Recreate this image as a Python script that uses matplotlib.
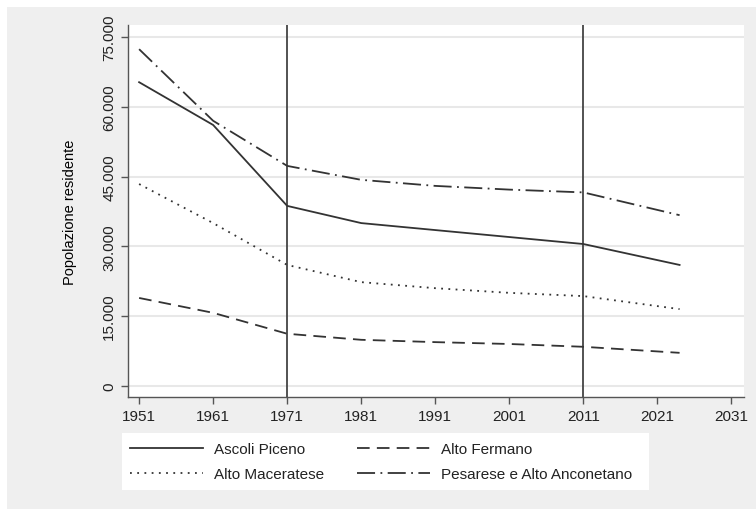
import matplotlib
matplotlib.use("Agg")
import matplotlib.pyplot as plt
from matplotlib.ticker import FuncFormatter

plt.rcParams["font.family"] = ["Liberation Sans", "DejaVu Sans"]

# census years plus latest estimate
anni = [1951, 1961, 1971, 1981, 1991, 2001, 2011, 2024]

ascoli_piceno = [65300, 56100, 38700, 35000, 33500, 32000, 30500, 26000]
alto_fermano = [18900, 15700, 11200, 9900, 9400, 9000, 8400, 7100]
alto_maceratese = [43400, 35000, 26000, 22300, 21000, 20000, 19300, 16500]
pesarese = [72400, 57000, 47300, 44300, 43000, 42200, 41600, 36700]

linee_verticali = [1971, 2011]
yticks = [0, 15000, 30000, 45000, 60000, 75000]
xticks = list(range(1951, 2032, 10))

grigio = "#333333"
sfondo = "#efefef"

fig = plt.figure(figsize=(7.56, 5.10), dpi=100, facecolor="white")
# grey background panel (Stata-like)
fig.patches.append(plt.Rectangle((7 / 756, 0), 1, 1 - 8 / 510,
                                 transform=fig.transFigure, facecolor=sfondo,
                                 edgecolor="none", zorder=-10))
# white legend box
fig.patches.append(plt.Rectangle((122 / 756, 1 - 491 / 510), (649 - 122) / 756,
                                 (491 - 434) / 510, transform=fig.transFigure,
                                 facecolor="white", edgecolor="none", zorder=-5))

ax = fig.add_axes([128 / 756, 1 - 398 / 510, (744 - 128) / 756, (398 - 26) / 510])
ax.set_facecolor("white")

l1, = ax.plot(anni, ascoli_piceno, color=grigio, lw=1.3, ls="-", label="Ascoli Piceno")
l2, = ax.plot(anni, alto_fermano, color=grigio, lw=1.3, ls=(0, (7, 4)), label="Alto Fermano")
l3, = ax.plot(anni, alto_maceratese, color=grigio, lw=1.3, ls=(0, (1, 3)), label="Alto Maceratese")
l4, = ax.plot(anni, pesarese, color=grigio, lw=1.3, ls=(0, (10, 3, 1, 3)),
              label="Pesarese e Alto Anconetano")

for x in linee_verticali:
    ax.axvline(x, color="#444444", lw=1.3, zorder=1)

ax.set_xlim(1949.5, 2032.7)
ax.set_ylim(-2400, 77600)
ax.set_xticks(xticks)
ax.set_yticks(yticks)
ax.yaxis.set_major_formatter(FuncFormatter(lambda v, p: f"{int(v):,}".replace(",", ".")))
ax.grid(axis="y", color="#e8e8e8", lw=1.5, zorder=0)
ax.set_axisbelow(True)

for s in ["top", "right"]:
    ax.spines[s].set_visible(False)
for s in ["left", "bottom"]:
    ax.spines[s].set_color("#555555")
    ax.spines[s].set_linewidth(1.0)

ax.tick_params(axis="both", colors="#555555", length=5, width=1.0, labelsize=11,
               labelcolor="#222222")
plt.setp(ax.get_yticklabels(), rotation=90, va="center")
ax.set_ylabel("Popolazione residente", fontsize=10.5, labelpad=18)

# row order as in the reference: Ascoli / Fermano, Maceratese / Pesarese
leg = fig.legend([l1, l3, l2, l4],
                 [l.get_label() for l in (l1, l3, l2, l4)],
                 loc="upper left", bbox_to_anchor=(130 / 756, 1 - 443 / 510),
                 ncol=2, frameon=False, fontsize=11,
                 handlelength=4.8, handletextpad=0.72, borderaxespad=0,
                 borderpad=0, labelspacing=0.75, columnspacing=2.1)
for t in leg.get_texts():
    t.set_color("#222222")

fig.savefig("out.png", dpi=100, facecolor=fig.get_facecolor())
